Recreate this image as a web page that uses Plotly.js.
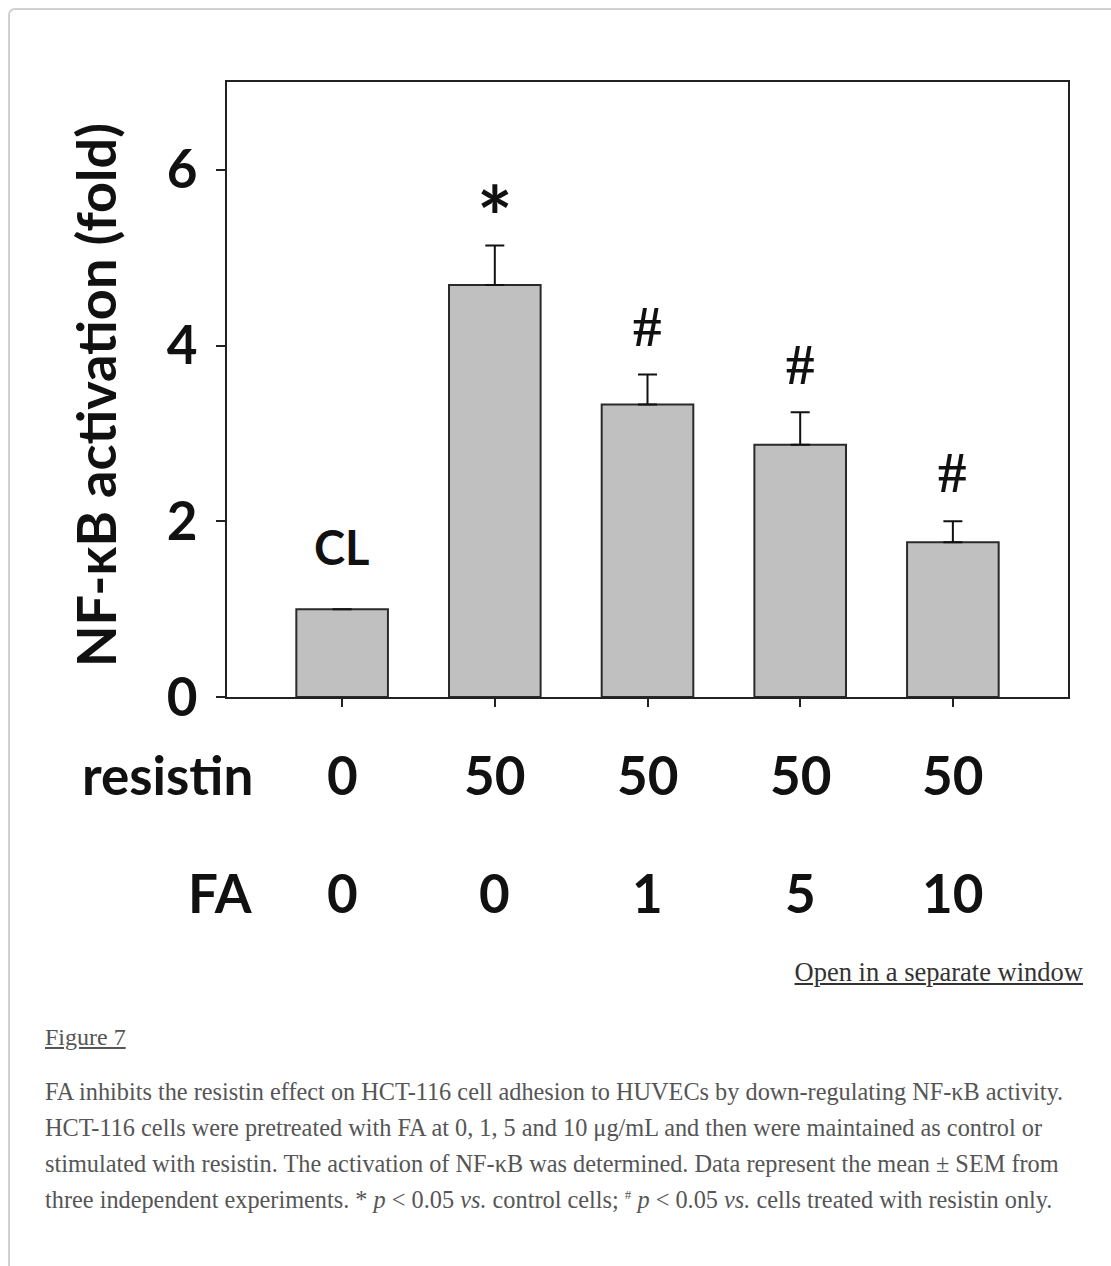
<!DOCTYPE html>
<html>
<head>
<meta charset="utf-8">
<script src="https://cdn.plot.ly/plotly-3.0.1.min.js"></script>
<style>
  html, body { margin:0; padding:0; background:#fff; width:1111px; height:1266px; overflow:hidden; }
  #frame { position:absolute; left:8px; top:8px; width:1200px; height:1400px; border:2px solid #d0d0d0; border-radius:7px; box-sizing:border-box; }
  #chart { position:absolute; left:0; top:0; width:1111px; height:1266px; }
  .cap { position:absolute; font-family:"Liberation Serif","Times New Roman",serif; color:#555; white-space:nowrap; }
  #open { right:28px; top:957px; font-size:26.5px; color:#333; text-decoration:underline; }
  #fig { left:45px; top:1024px; font-size:24px; color:#555; text-decoration:underline; }
  #para { left:45px; top:1074px; font-size:24.3px; line-height:36px; }
</style>
</head>
<body>
<div id="frame"></div>
<div id="chart"></div>
<div class="cap" id="open">Open in a separate window</div>
<div class="cap" id="fig">Figure 7</div>
<div class="cap" id="para">FA inhibits the resistin effect on HCT-116 cell adhesion to HUVECs by down-regulating NF-κB activity.<br>HCT-116 cells were pretreated with FA at 0, 1, 5 and 10 μg/mL and then were maintained as control or<br>stimulated with resistin. The activation of NF-κB was determined. Data represent the mean ± SEM from<br>three independent experiments. * <i>p</i> &lt; 0.05 <i>vs.</i> control cells; <sup style="font-size:13px;line-height:0">#</sup> <i>p</i> &lt; 0.05 <i>vs.</i> cells treated with resistin only.</div>
<script>
const groups = ["CL", "R50", "R50+FA1", "R50+FA5", "R50+FA10"];
const resistin = ["0", "50", "50", "50", "50"];
const fa = ["0", "0", "1", "5", "10"];
const activation = [1.0, 4.69, 3.33, 2.87, 1.76];
const sem = [0, 0.45, 0.34, 0.37, 0.24];
const marks = ["CL", "*", "#", "#", "#"];
const markOffset = [0.71, 0.34, 0.55, 0.55, 0.55];
const yTicks = [0, 2, 4, 6];

const xi = groups.map((g, i) => i);
const boldFont = "Lato, 'Open Sans', sans-serif";
const big = 53;

const trace = {
  type: "bar",
  x: xi,
  y: activation,
  width: 0.6,
  marker: { color: "#c0c0c0", line: { color: "#2a2a2a", width: 2 } },
  error_y: { type: "data", array: sem, symmetric: false, arrayminus: sem.map(() => 0), visible: true, color: "#111", thickness: 2, width: 9.5 },
  hoverinfo: "skip"
};

const annotations = [];
xi.forEach(i => {
  const top = activation[i] + sem[i];
  const m = marks[i];
  let font;
  if (m === "CL") font = { family: boldFont, size: 47, color: "#111", weight: "bold" };
  else if (m === "*") font = { family: boldFont, size: 84, color: "#111", weight: "bold" };
  else font = { family: "'Liberation Serif', serif", size: 57, color: "#111", weight: "bold" };
  annotations.push({ x: i, y: top + markOffset[i], xref: "x", yref: "y", text: m, showarrow: false, yanchor: "middle", font: font });
});
const rowY = [-0.126, -0.318];
const rowNames = ["resistin", "FA"];
const rowNameRight = (255 - 227) / 841;
[resistin, fa].forEach((row, r) => {
  row.forEach((v, i) => {
    annotations.push({ x: i, y: rowY[r], xref: "x", yref: "paper", text: v, showarrow: false,
      yanchor: "middle", font: { family: boldFont, size: big, color: "#111", weight: "bold" } });
  });
  annotations.push({ x: rowNameRight, y: rowY[r], xref: "paper", yref: "paper", xanchor: "right", yanchor: "middle",
    text: rowNames[r], showarrow: false, font: { family: boldFont, size: big, color: "#111", weight: "bold" } });
});
annotations.push({ x: (95 - 227) / 841, y: 0.491, xref: "paper", yref: "paper", textangle: -90,
  text: "NF-κB activation (fold)", showarrow: false, xanchor: "center", yanchor: "middle",
  font: { family: boldFont, size: 54, color: "#111", weight: "bold" } });

const layout = {
  width: 1111, height: 1266,
  margin: { l: 227, r: 43, t: 82, b: 568.5 },
  paper_bgcolor: "rgba(0,0,0,0)", plot_bgcolor: "#fff",
  showlegend: false,
  xaxis: { range: [-0.754, 4.754], tickvals: xi, showticklabels: false, ticks: "outside", ticklen: 8, tickwidth: 2, tickcolor: "#222",
    showline: true, mirror: true, linecolor: "#222", linewidth: 2, showgrid: false, zeroline: false, fixedrange: true },
  yaxis: { range: [0, 7], tickvals: yTicks, ticktext: yTicks.map(String), ticks: "outside", ticklen: 9, tickwidth: 2, tickcolor: "#222",
    ticklabelstandoff: 8,
    tickfont: { family: boldFont, size: big, color: "#111", weight: "bold" },
    showline: true, mirror: true, linecolor: "#222", linewidth: 2, showgrid: false, zeroline: false, fixedrange: true },
  annotations: annotations
};

Plotly.newPlot("chart", [trace], layout, { staticPlot: true, displayModeBar: false });
</script>
</body>
</html>
